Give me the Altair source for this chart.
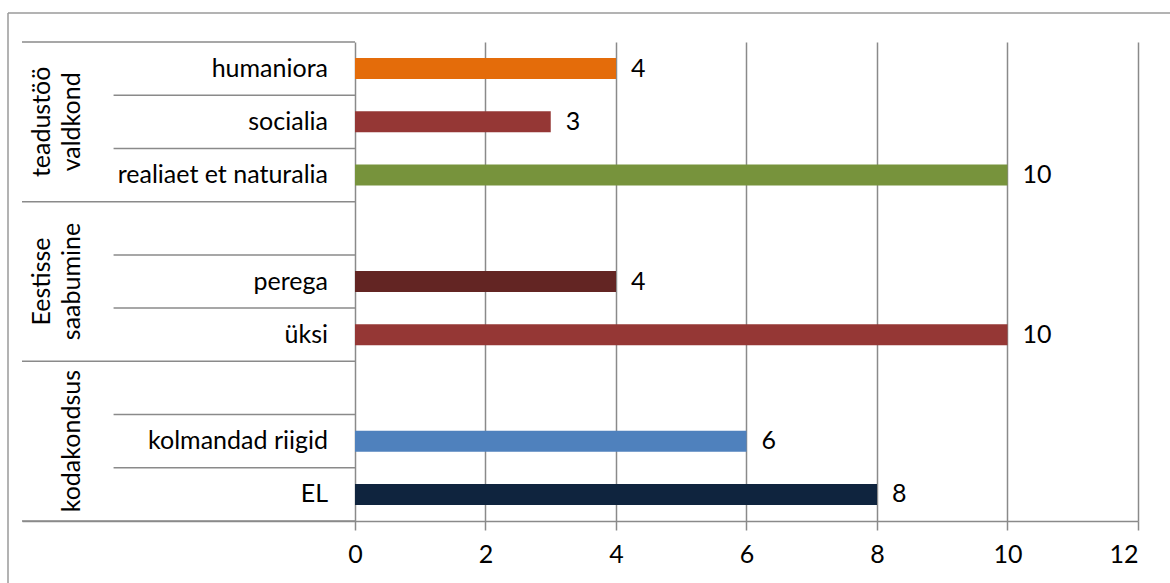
import altair as alt
import pandas as pd

# ---- data ----
labels = ["humaniora", "socialia", "realiaet et naturalia",
          "", "perega", "üksi",
          "", "kolmandad riigid", "EL"]
values = [4, 3, 10, None, 4, 10, None, 6, 8]
colors = ["#E46C0A", "#953735", "#77933C",
          None, "#632523", "#953735",
          None, "#4F81BD", "#0F243E"]
group_lines = [["teadustöö", "valdkond"], ["Eestisse", "saabumine"], ["kodakondsus"]]
group_size = 3
x_ticks = [0, 2, 4, 6, 8, 10, 12]

FONT = "Lato"
FS = 25
GRAY = "#8a8a8a"
X_MIN = -5.1034           # left end of the label area, in axis units
X_MAX = 12
CAT_LINE_START = -3.70
BAR_PAD = 0.3025

n_rows = len(labels)

rows = pd.DataFrame({
    "r": list(range(n_rows)),
    "label": labels,
    "value": values,
    "color": colors,
})
rows["y0"] = rows["r"] + BAR_PAD
rows["y1"] = rows["r"] + 1 - BAR_PAD
rows["ym"] = rows["r"] + 0.5
rows["x0"] = 0.0
bars_df = rows.dropna(subset=["value"]).copy()
bars_df["vtxt"] = bars_df["value"].astype(int).astype(str)

# divider segments in the label area: two points per segment
pts = []
n_groups = len(group_lines)
seg = 0
for g in range(n_groups + 1):
    for xv in (X_MIN, 0.0):
        pts.append({"seg": seg, "px": xv, "py": g * group_size})
    seg += 1
for g in range(n_groups):
    for k in range(1, group_size):
        for xv in (CAT_LINE_START, 0.0):
            pts.append({"seg": seg, "px": xv, "py": g * group_size + k})
        seg += 1
lines_df = pd.DataFrame(pts)

# group titles (rotated), one record per text line
grp_recs = []
for g, lines in enumerate(group_lines):
    for j, t in enumerate(lines):
        slot = j if len(lines) > 1 else 1
        grp_recs.append({"t": t, "gx": 0.0, "slot": slot,
                         "gy": g * group_size + group_size / 2})
grp_df = pd.DataFrame(grp_recs)

xscale = alt.Scale(domain=[X_MIN, X_MAX], nice=False, zero=False)
yscale = alt.Scale(domain=[0, n_rows], reverse=True, nice=False, zero=False)
xaxis = alt.Axis(values=x_ticks, title=None, format="d", grid=True)


def X(field):
    return alt.X(field, type="quantitative", scale=xscale, axis=xaxis)


def Y(field):
    return alt.Y(field, type="quantitative", scale=yscale, axis=None)


bars = alt.Chart(bars_df).mark_bar().encode(
    x=X("value"), x2="x0:Q",
    y=Y("y0"), y2="y1:Q",
    color=alt.Color("color:N", scale=None),
)

dividers = alt.Chart(lines_df).mark_line(color=GRAY, strokeWidth=1.5).encode(
    x=X("px"), y=Y("py"), detail="seg:N",
)

cat_text = alt.Chart(rows).mark_text(
    align="right", baseline="middle", dx=-27, font=FONT, fontSize=FS, color="black"
).encode(x=X("x0"), y=Y("ym"), text="label:N")

val_text = alt.Chart(bars_df).mark_text(
    align="left", baseline="middle", dx=15, font=FONT, fontSize=FS, color="black"
).encode(x=X("value"), y=Y("ym"), text="vtxt:N")

grp_layers = []
for slot, dy in [(0, -313), (1, -283)]:
    grp_layers.append(
        alt.Chart(grp_df).transform_filter(alt.datum.slot == slot).mark_text(
            angle=270, align="center", baseline="middle", dy=dy,
            font=FONT, fontSize=FS, color="black"
        ).encode(x=X("gx"), y=Y("gy"), text="t:N")
    )

one = pd.DataFrame({"a": [0]})
frame_left = alt.Chart(one).mark_rule(color="#9a9a9a", strokeWidth=1.5).encode(
    x=alt.value(-14), y=alt.value(-29), y2=alt.value(700)
)
frame_top = alt.Chart(one).mark_rule(color="#9a9a9a", strokeWidth=1.5).encode(
    x=alt.value(-14), x2=alt.value(1300), y=alt.value(-29)
)

chart = alt.layer(
    frame_left, frame_top, dividers, bars, cat_text, val_text, *grp_layers
).properties(
    width=1116, height=479,
    autosize=alt.AutoSizeParams(type="none"),
    padding={"left": 22, "top": 42, "right": 32, "bottom": 62},
    background="white",
).configure_view(strokeWidth=0, strokeOpacity=0).configure_axis(
    labelFont=FONT, labelFontSize=FS, labelColor="black",
    tickColor=GRAY, tickSize=9, tickWidth=1.5,
    domainColor=GRAY, domainWidth=1.5,
    gridColor=GRAY, gridWidth=1.5, gridOpacity=1,
    labelPadding=12,
)

chart.save("out.html", embed_options={"renderer": "svg", "actions": False})
